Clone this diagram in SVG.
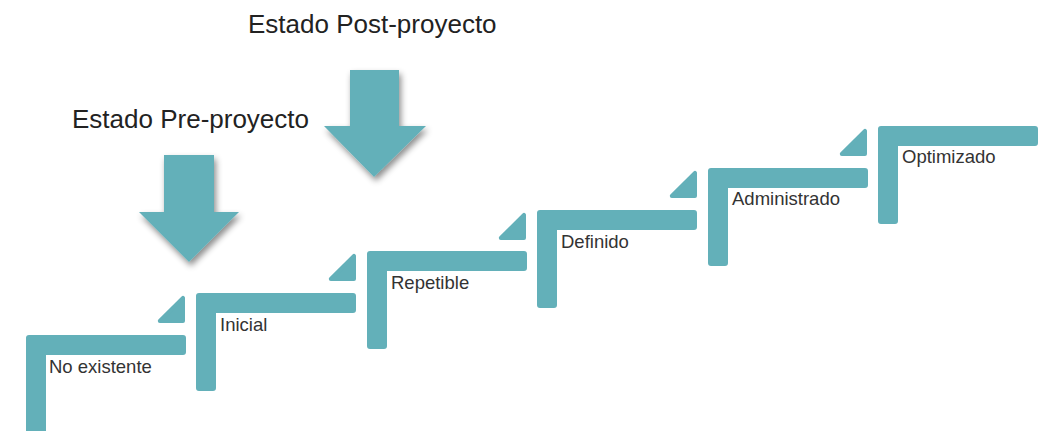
<svg xmlns="http://www.w3.org/2000/svg" xmlns:xlink="http://www.w3.org/1999/xlink" width="1047" height="431" viewBox="0 0 1047 431">
  <style>
    .teal { fill: #63b0b9; }
    .tri { fill: #63b0b9; stroke: #63b0b9; stroke-width: 4; stroke-linejoin: round; }
    .lbl { font-family: "Liberation Sans", Arial, sans-serif; font-size: 18.5px; fill: #333333; }
    .title { font-family: "Liberation Sans", Arial, sans-serif; font-size: 26px; fill: #222222; }
  </style>
  <defs>
    <path id="step" d="M3,0 H157 Q160,0 160,3 V17 Q160,20 157,20 H20 V95 Q20,98 17,98 H3 Q0,98 0,95 V3 Q0,0 3,0 Z"/>
    <polygon id="tri" points="-13,4.8 -13,28 -36.2,28"/>
    <filter id="shadow" x="-30%" y="-30%" width="160%" height="160%">
      <feDropShadow dx="2" dy="4" stdDeviation="3" flood-color="#000000" flood-opacity="0.45"/>
    </filter>
  </defs>
  <rect width="1047" height="431" fill="#ffffff"/>

  <g id="title-post"><text class="title" x="248" y="33">Estado Post-proyecto</text></g>
  <g id="title-pre"><text class="title" x="72" y="128">Estado Pre-proyecto</text></g>

  <g id="arrow-pre">
    <path class="teal" filter="url(#shadow)" d="M164,155 H214 V212 H239 L189,262 L139,212 H164 Z"/>
  </g>
  <g id="arrow-post">
    <path class="teal" filter="url(#shadow)" d="M350,70 H399 V126 H426 L374,177 L324,126 H350 Z"/>
  </g>

  <g id="step-no-existente" transform="translate(26,335)">
    <path class="teal" d="M3,0 H157 Q160,0 160,3 V17 Q160,20 157,20 H20 V110 H0 V3 Q0,0 3,0 Z"/>
    <text class="lbl" x="23" y="38">No existente</text>
  </g>
  <g id="step-inicial" transform="translate(196,293)">
    <use xlink:href="#tri" class="tri"/>
    <use xlink:href="#step" class="teal"/>
    <text class="lbl" x="24" y="38">Inicial</text>
  </g>
  <g id="step-repetible" transform="translate(367,251)">
    <use xlink:href="#tri" class="tri"/>
    <use xlink:href="#step" class="teal"/>
    <text class="lbl" x="24" y="38">Repetible</text>
  </g>
  <g id="step-definido" transform="translate(537,210)">
    <use xlink:href="#tri" class="tri"/>
    <use xlink:href="#step" class="teal"/>
    <text class="lbl" x="24" y="38">Definido</text>
  </g>
  <g id="step-administrado" transform="translate(708,168)">
    <use xlink:href="#tri" class="tri"/>
    <use xlink:href="#step" class="teal"/>
    <text class="lbl" x="24" y="37">Administrado</text>
  </g>
  <g id="step-optimizado" transform="translate(878,126)">
    <use xlink:href="#tri" class="tri"/>
    <use xlink:href="#step" class="teal"/>
    <text class="lbl" x="24" y="37">Optimizado</text>
  </g>
  <g id="connectors"/>
</svg>
